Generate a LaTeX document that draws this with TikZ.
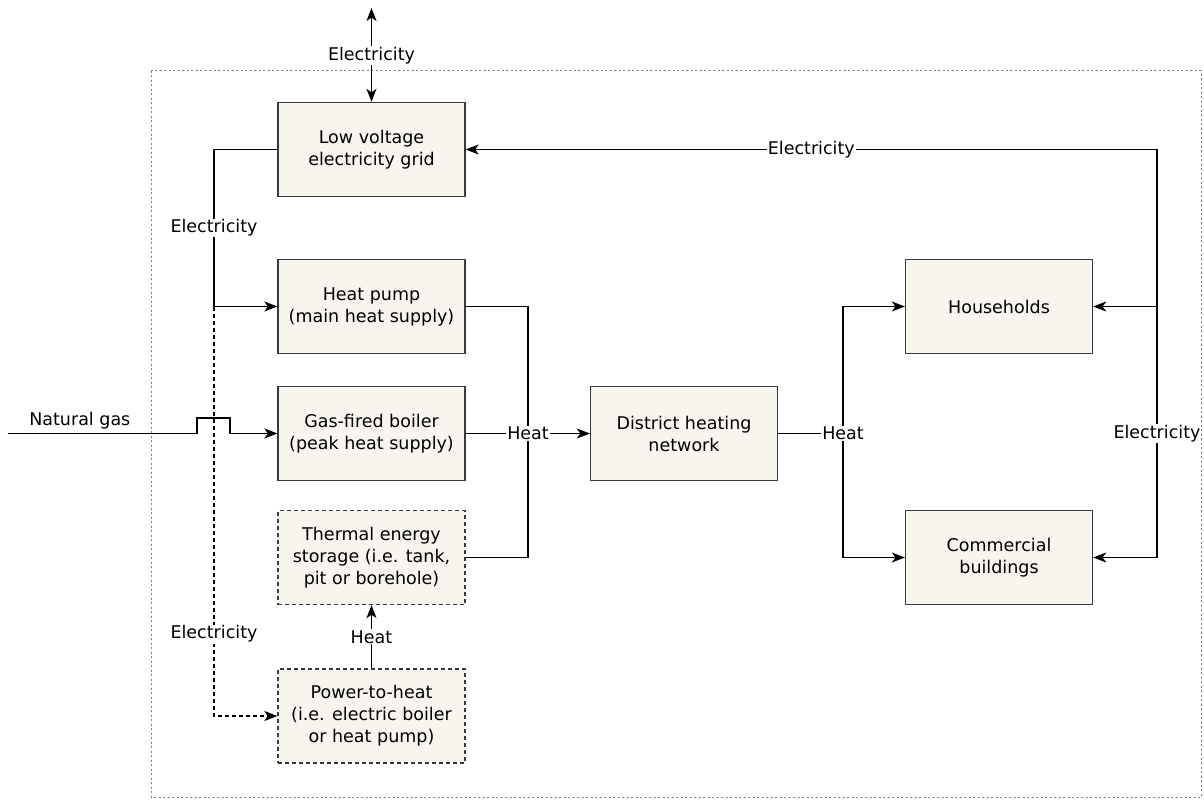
\documentclass[tikz,border=0pt]{standalone}
\usepackage{fontspec}
\setmainfont{DejaVu Sans}
\usetikzlibrary{arrows.meta}

\definecolor{boxfill}{RGB}{247,245,238}
\definecolor{boxline}{RGB}{54,57,61}

\tikzset{
  box/.style={draw=boxline, fill=boxfill, line width=1.3pt, minimum width=187pt, minimum height=94pt, align=center, inner sep=2pt},
  store/.style={box, dash pattern=on 4pt off 3pt},
  lbl/.style={fill=white, inner sep=1pt},
  flow/.style={line width=1.4pt, ->},
}

\begin{document}
\begin{tikzpicture}[x=1pt, y=-1pt, font=\fontsize{17.5}{22}\selectfont, >={Stealth[length=13pt,width=10pt,inset=3.5pt]}]
\useasboundingbox (0,0) rectangle (1204,805);
\draw[gray, line width=1pt, dash pattern=on 2pt off 2.5pt] (151,71) rectangle (1201,797);

\node[box] (grid) at (371.5,149.5) {Low voltage\\electricity grid};
\node[box] (hp) at (371.5,306.5) {Heat pump\\(main heat supply)};
\node[box] (boiler) at (371.5,433.5) {Gas-fired boiler\\(peak heat supply)};
\node[store] (tes) at (371.5,557.5) {Thermal energy\\storage (i.e. tank,\\pit or borehole)};
\node[store] (p2h) at (371.5,716) {Power-to-heat\\(i.e. electric boiler\\or heat pump)};
\node[box] (dhn) at (684,433.5) {District heating\\network};
\node[box] (hh) at (999,306.5) {Households};
\node[box] (cb) at (999,557.5) {Commercial\\buildings};

\coordinate (out) at (371.5,8);
\coordinate (split) at (214,306.5);
\coordinate (gas) at (8,433.5);
\coordinate (collect) at (528,433.5);
\coordinate (fork) at (843,433.5);
\coordinate (feed) at (1157,149.5);

% electricity side
\draw[flow, <->] (out) -- node[lbl, pos=0.51] {Electricity} (grid);
\draw[flow] (grid.west) -| node[lbl, pos=0.75] {Electricity} (split) -- (hp.west);
\draw[flow, dash pattern=on 4pt off 3pt] (split) |- node[lbl, pos=0.4] {Electricity} (p2h.west);

% gas
\draw[flow] (gas) -- node[above, pos=0.38] {Natural gas} ++(189,0) -- ++(0,-15.5) -- ++(33,0) -- ++(0,15.5) -- (boiler.west);

% heat
\draw[line width=1.4pt] (hp.east) -| (collect);
\draw[line width=1.4pt] (tes.east) -| (collect);
\draw[flow] (boiler) -- (dhn);
\node[lbl] (heat1) at (collect) {Heat};
\draw[flow] (p2h) -- node[lbl] {Heat} (tes);

\draw[line width=1.4pt] (dhn.east) -- (fork);
\draw[flow] (fork) |- (hh.west);
\draw[flow] (fork) |- (cb.west);
\node[lbl] (heat2) at (fork) {Heat};

% back to the grid
\draw[flow] (feed) -- node[lbl] {Electricity} (grid.east);
\draw[flow] (feed) |- (hh.east);
\draw[flow] (feed) |- (cb.east);
\node[lbl] (elec) at (feed |- dhn) {Electricity};
\end{tikzpicture}
\end{document}
